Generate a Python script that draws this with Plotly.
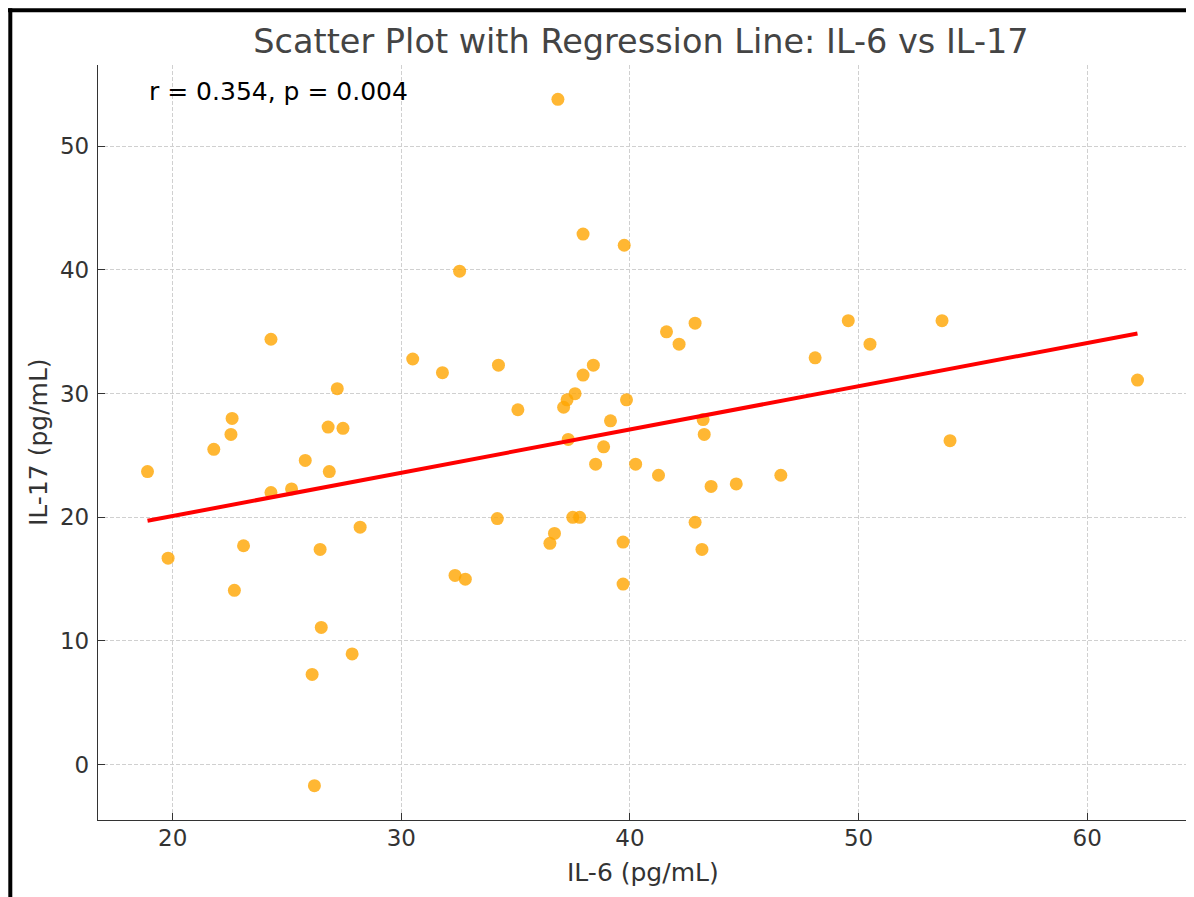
import numpy as np
import plotly.graph_objects as go

# IL-6 (x) and IL-17 (y) values
il6 = [18.9, 19.8, 21.8, 22.6, 22.55, 22.7, 23.1, 24.3, 24.3, 25.2, 25.8, 26.1, 26.2, 26.45,
       26.5, 26.8, 26.85, 27.2, 27.45, 27.85, 28.2, 30.5, 31.8, 32.35, 32.55, 32.8, 34.25, 34.2,
       35.1, 36.5, 36.7, 36.85, 37.1, 37.25, 37.3, 37.5, 37.6, 37.8, 37.95, 37.95, 38.4, 38.5,
       38.85, 39.15, 39.7, 39.7, 39.75, 39.85, 40.25, 41.25, 41.6, 42.15, 42.85, 42.85, 43.15, 43.2,
       43.25, 43.55, 44.65, 46.6, 48.1, 49.55, 50.5, 53.65, 54.0, 62.2]
il17 = [23.7, 16.7, 25.5, 28.0, 26.7, 14.1, 17.7, 34.4, 22.0, 22.3, 24.6, 7.3, -1.7, 17.4,
        11.1, 27.3, 23.7, 30.4, 27.2, 8.95, 19.2, 32.8, 31.7, 15.3, 39.9, 15.0, 32.3, 19.9,
        28.7, 17.9, 18.7, 53.8, 28.9, 29.5, 26.3, 20.0, 30.0, 20.0, 31.5, 42.9, 32.3, 24.3,
        25.7, 27.8, 18.0, 14.6, 42.0, 29.5, 24.3, 23.4, 35.0, 34.0, 35.7, 19.6, 17.4, 27.9,
        26.7, 22.5, 22.7, 23.4, 32.9, 35.9, 34.0, 35.9, 26.2, 31.1]
x_ticks = [20, 30, 40, 50, 60]
y_ticks = [0, 10, 20, 30, 40, 50]
stats_text = "r = 0.354, p = 0.004"

x = np.array(il6)
y = np.array(il17)
slope, intercept = np.polyfit(x, y, 1)
fit_x = np.array([x.min(), x.max()])
fit_y = slope * fit_x + intercept

def padded(a):
    lo, hi = float(np.min(a)), float(np.max(a))
    d = (hi - lo) * 0.05
    return [lo - d, hi + d]

# the page body has an 8px margin, so the figure is placed at (8, 8)
OFF = 8
W, H = 1194 - OFF, 897 - OFF
L, R, T, B = 98 - OFF, 7, 65 - OFF, 77
pw, ph = W - L - R, H - T - B

def px_x(p):
    return (p - OFF - L) / pw

def px_y(p):
    return (H - B - (p - OFF)) / ph

FONT = "DejaVu Sans"
fig = go.Figure()
fig.add_trace(go.Scatter(
    x=il6, y=il17, mode="markers",
    marker=dict(color="orange", size=13, opacity=0.8, line=dict(width=0)),
    showlegend=False,
))
fig.add_trace(go.Scatter(
    x=fit_x, y=fit_y, mode="lines",
    line=dict(color="red", width=4), showlegend=False,
))

axis_common = dict(
    showline=True, linecolor="#333333", linewidth=1.3,
    ticks="inside", ticklen=7, tickwidth=1.3, tickcolor="#333333",
    showgrid=True, gridcolor="#d0d0d0", gridwidth=1, griddash="4px,2px",
    zeroline=False, mirror=False,
    tickfont=dict(family=FONT, size=23, color="#333333"),
)
fig.update_xaxes(range=padded(il6), tickvals=x_ticks, ticklabelstandoff=-3, **axis_common)
fig.update_yaxes(range=padded(il17), tickvals=y_ticks, ticklabelstandoff=3, **axis_common)

fig.update_layout(
    width=W, height=H,
    margin=dict(l=L, r=R, t=T, b=B),
    paper_bgcolor="white", plot_bgcolor="white",
    title=dict(text="Scatter Plot with Regression Line: IL-6 vs IL-17",
               x=(641 - OFF) / W, xanchor="center",
               y=1 - (41 - OFF) / H, yanchor="middle",
               font=dict(family=FONT, size=33.5, color="#444444")),
    annotations=[
        dict(text=stats_text, xref="paper", yref="paper", x=px_x(147), y=px_y(91),
             xanchor="left", yanchor="middle", showarrow=False,
             font=dict(family=FONT, size=25, color="black")),
        dict(text="IL-6 (pg/mL)", xref="paper", yref="paper", x=px_x(643), y=px_y(872),
             xanchor="center", yanchor="middle", showarrow=False,
             font=dict(family=FONT, size=25, color="#333333")),
        dict(text="IL-17 (pg/mL)", xref="paper", yref="paper", x=px_x(38), y=px_y(442),
             xanchor="center", yanchor="middle", showarrow=False, textangle=-90,
             font=dict(family=FONT, size=25, color="#333333")),
    ],
    shapes=[
        dict(type="line", xref="paper", yref="paper", x0=px_x(8), x1=px_x(1200),
             y0=px_y(10.3), y1=px_y(10.3), line=dict(color="black", width=4)),
        dict(type="line", xref="paper", yref="paper", x0=px_x(10.3), x1=px_x(10.3),
             y0=px_y(8.3), y1=px_y(905), line=dict(color="black", width=4)),
    ],
)

fig.write_html("out.html")
